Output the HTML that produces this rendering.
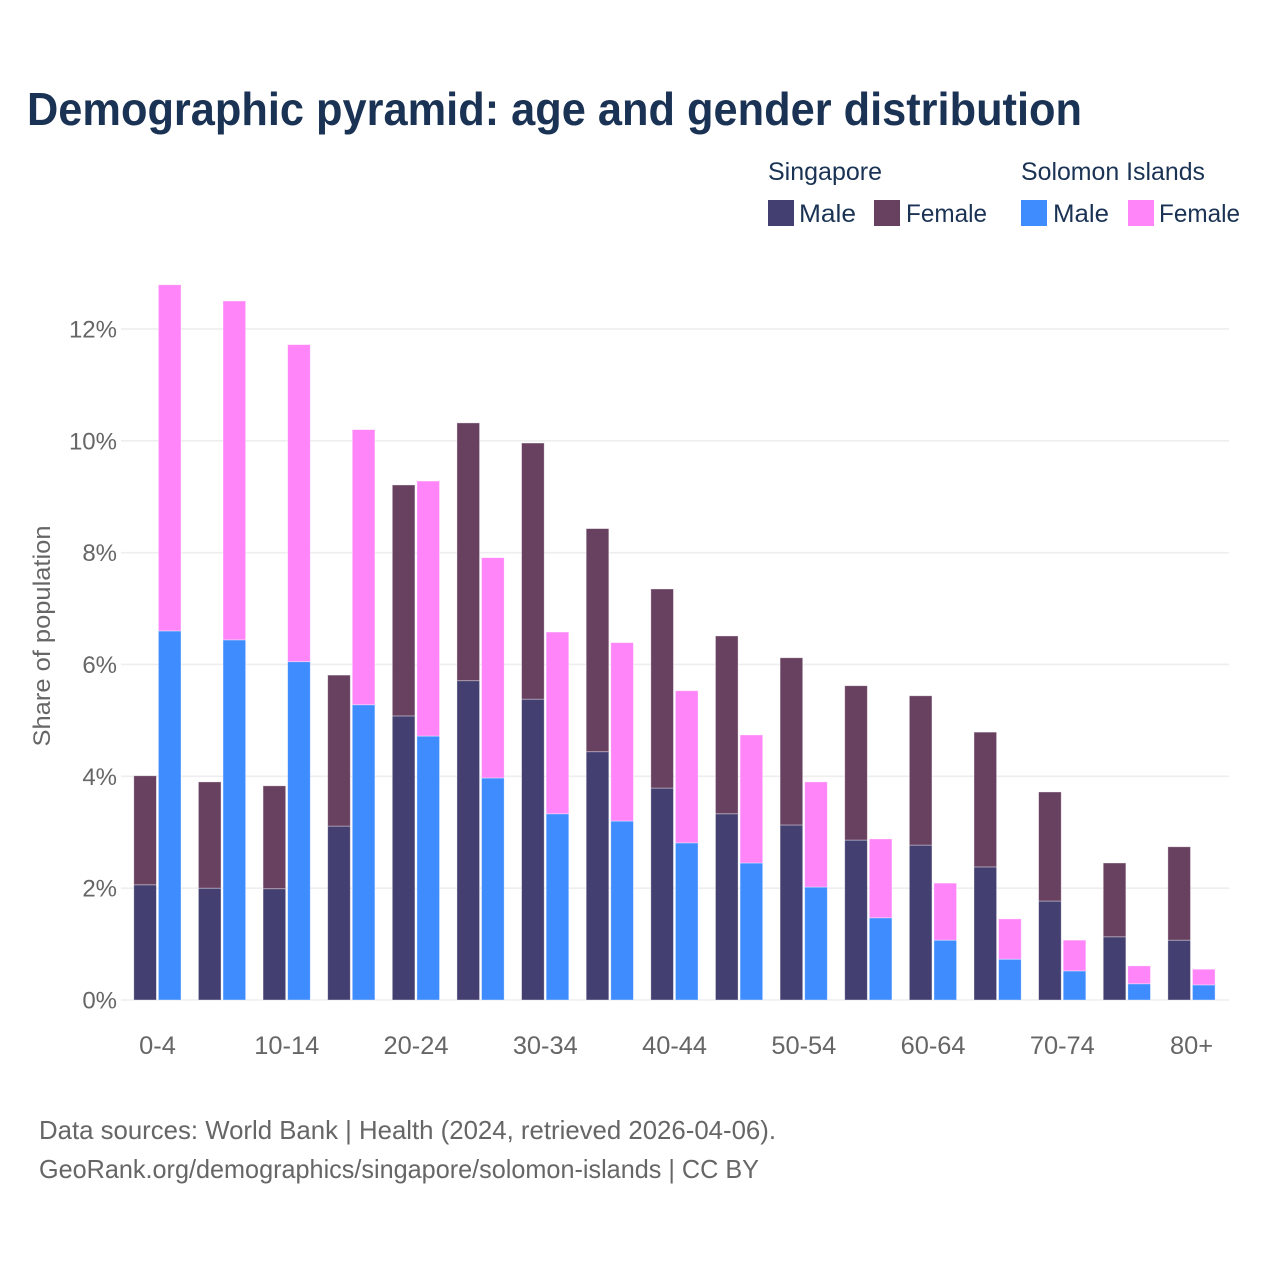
<!DOCTYPE html>
<html lang="en">
<head>
<meta charset="utf-8">
<title>Demographic pyramid</title>
<style>
html,body{margin:0;padding:0;background:#fff;}
svg{display:block;}
text{font-family:"Liberation Sans",sans-serif;}
</style>
</head>
<body>
<svg id="chart" width="1280" height="1280" viewBox="0 0 1280 1280" xmlns="http://www.w3.org/2000/svg">
  <rect x="0" y="0" width="1280" height="1280" fill="#fff"/>
  <text x="27" y="125" font-size="46" font-weight="700" fill="#1a3254" textLength="1055" lengthAdjust="spacingAndGlyphs">Demographic pyramid: age and gender distribution</text>

  <g font-size="25" fill="#1a3254">
    <text x="768" y="180" textLength="114" lengthAdjust="spacingAndGlyphs">Singapore</text>
    <text x="1021" y="180" textLength="184" lengthAdjust="spacingAndGlyphs">Solomon Islands</text>
    <rect x="768" y="200" width="26" height="26" fill="#433f70"/>
    <text x="799" y="222" textLength="57" lengthAdjust="spacingAndGlyphs">Male</text>
    <rect x="874" y="200" width="26" height="26" fill="#684160"/>
    <text x="906" y="222" textLength="81" lengthAdjust="spacingAndGlyphs">Female</text>
    <rect x="1021" y="200" width="26" height="26" fill="#3f8cff"/>
    <text x="1053" y="222" textLength="56" lengthAdjust="spacingAndGlyphs">Male</text>
    <rect x="1128" y="200" width="26" height="26" fill="#ff85f8"/>
    <text x="1159" y="222" textLength="81" lengthAdjust="spacingAndGlyphs">Female</text>
  </g>

  <g id="grid"></g>
  <g id="bars"></g>
  <g id="xlabels"></g>

  <text transform="translate(50,636) rotate(-90)" text-anchor="middle" font-size="24" fill="#666" textLength="221" lengthAdjust="spacingAndGlyphs">Share of population</text>

  <text x="39" y="1139" font-size="26" fill="#666" textLength="737" lengthAdjust="spacingAndGlyphs">Data sources: World Bank | Health (2024, retrieved 2026-04-06).</text>
  <text x="39" y="1178" font-size="26" fill="#666" textLength="720" lengthAdjust="spacingAndGlyphs">GeoRank.org/demographics/singapore/solomon-islands | CC BY</text>
</svg>
<script>
const categories = ["0-4","5-9","10-14","15-19","20-24","25-29","30-34","35-39","40-44","45-49","50-54","55-59","60-64","65-69","70-74","75-79","80+"];
const singaporeMale = [2.06,2.00,1.99,3.11,5.08,5.71,5.38,4.44,3.79,3.33,3.13,2.86,2.77,2.38,1.77,1.13,1.07];
const singaporeFemale = [1.95,1.90,1.84,2.70,4.13,4.61,4.58,3.99,3.56,3.18,2.99,2.76,2.67,2.41,1.95,1.32,1.67];
const solomonMale = [6.60,6.44,6.05,5.28,4.72,3.97,3.33,3.20,2.81,2.45,2.02,1.47,1.07,0.73,0.52,0.29,0.27];
const solomonFemale = [6.19,6.06,5.67,4.92,4.56,3.94,3.25,3.19,2.72,2.29,1.88,1.41,1.02,0.72,0.55,0.32,0.28];
const yTicks = [0,2,4,6,8,10,12];

const NS = "http://www.w3.org/2000/svg";
const plotLeft = 121, plotRight = 1229, y0 = 1000, pxPerUnit = 55.92;
const bandStart = 125.7, bandStep = 64.63, barW = 22.6, barGap = 2;
function yScale(v){ return y0 - v * pxPerUnit; }
function xBand(i){ return bandStart + i * bandStep; }
function make(tag, attrs, parent){
  const el = document.createElementNS(NS, tag);
  for (const k in attrs) el.setAttribute(k, attrs[k]);
  parent.appendChild(el);
  return el;
}

const grid = document.getElementById("grid");
yTicks.forEach(function(t){
  const line = make("line", {x1: plotLeft, x2: plotRight, y1: yScale(t), y2: yScale(t), stroke: "#eeeef1", "stroke-width": 1.6}, grid);
  
  
  const label = make("text", {x: 117, y: yScale(t) + 8.5, "text-anchor": "end", "font-size": 24, fill: "#666"}, grid);
  
  
  label.textContent = t + "%";
});

const bars = document.getElementById("bars");
function drawBar(x, bottom, value, color){
  const top = yScale(bottom + value);
  const r = make("rect", {x: x, y: top, width: barW, height: yScale(bottom) - top, fill: color, stroke: "#fff", "stroke-opacity": 0.45, "stroke-width": 0.8}, bars);
  
  
}
categories.forEach(function(c, i){
  const x1 = xBand(i) + 8.1;
  const x2 = x1 + barW + barGap;
  drawBar(x1, 0, singaporeMale[i], "#433f70");
  drawBar(x1, singaporeMale[i], singaporeFemale[i], "#684160");
  drawBar(x2, 0, solomonMale[i], "#3f8cff");
  drawBar(x2, solomonMale[i], solomonFemale[i], "#ff85f8");
});

const xlabels = document.getElementById("xlabels");
categories.forEach(function(c, i){
  if (i % 2 !== 0) return;
  const t = make("text", {x: xBand(i) + bandStep / 2 - 0.5, y: 1054, "text-anchor": "middle", "font-size": 25.4, fill: "#666"}, xlabels);
  
  
  t.textContent = c;
});
</script>
</body>
</html>
